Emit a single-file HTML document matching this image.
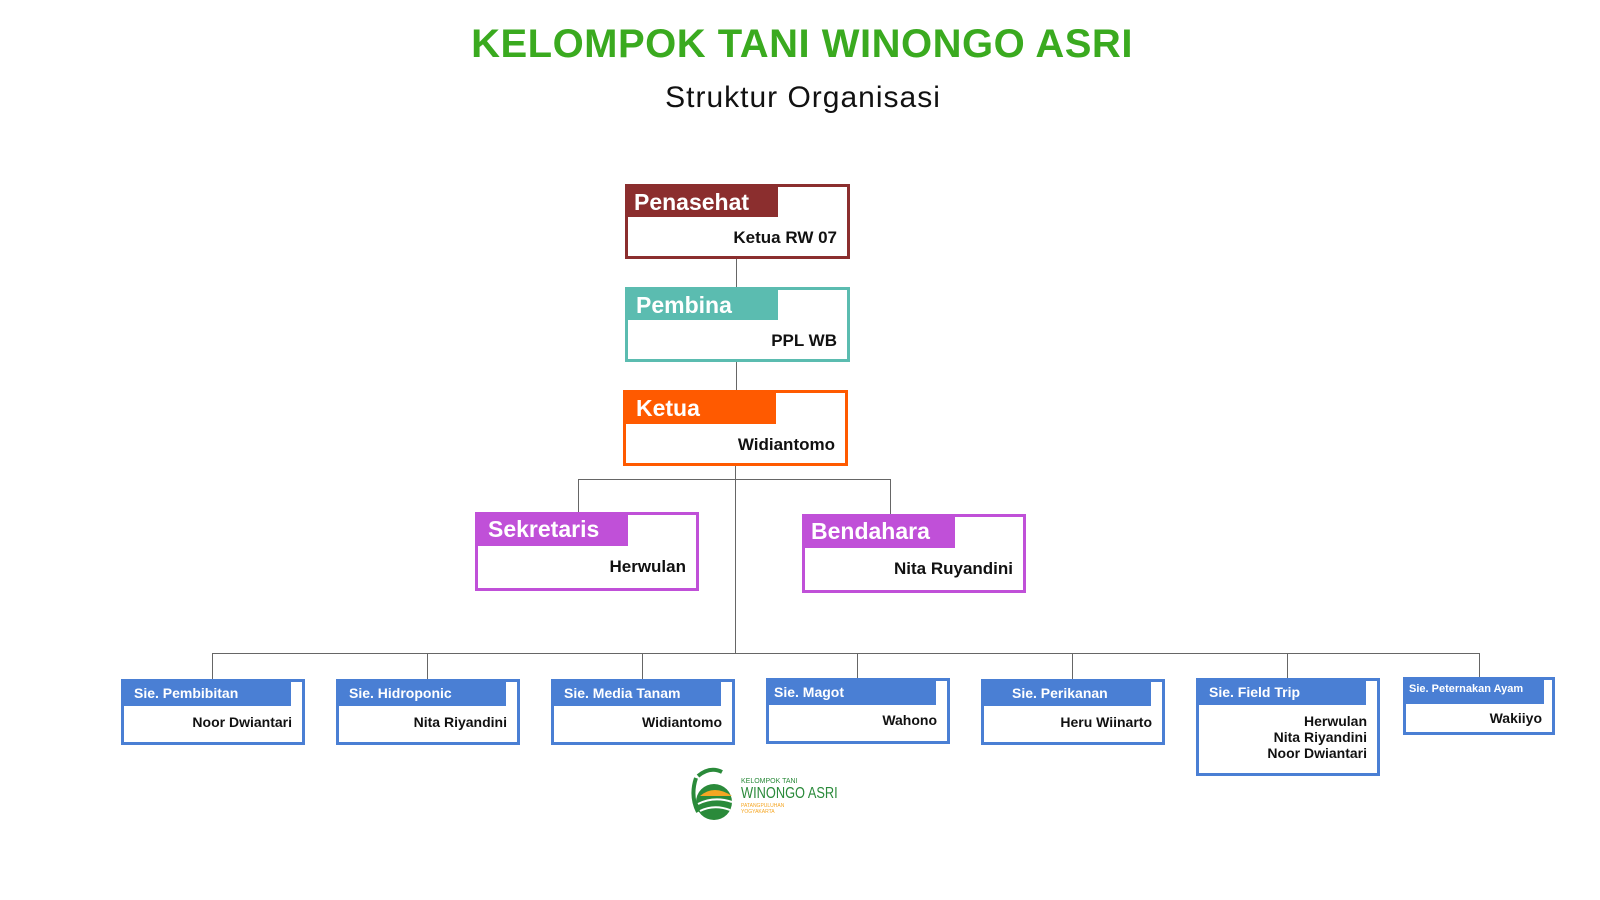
<!DOCTYPE html>
<html><head><style>
body{margin:0;width:1600px;height:900px;background:#fff;position:relative;overflow:hidden;font-family:"Liberation Sans",sans-serif}
.a{position:absolute}
.box{position:absolute;box-sizing:border-box;border:3px solid;background:#fff}
.hd{position:absolute;left:0;top:0;color:#fff;font-weight:bold;box-sizing:border-box}
.nm{position:absolute;right:10px;font-weight:bold;color:#111;text-align:right}
.l{position:absolute;background:#666}
.sb{border-color:#4a7fd4}
.sb .hd{background:#4a7fd4;height:24px;width:167px;font-size:14px;padding:3px 0 0 10px}
.sb .nm{top:32px;font-size:14px;line-height:16px}
</style></head><body>
<div class="a" style="left:0;width:1604px;top:22px;text-align:center;color:#3aaa1f;font-weight:bold;font-size:40px;letter-spacing:0.5px">KELOMPOK TANI WINONGO ASRI</div>
<div class="a" style="left:0;width:1606px;top:81px;text-align:center;color:#111;font-size:30px;letter-spacing:1px">Struktur Organisasi</div>

<div class="l" style="left:736px;top:259px;width:1px;height:28px"></div>
<div class="l" style="left:736px;top:362px;width:1px;height:28px"></div>
<div class="l" style="left:735px;top:466px;width:1px;height:188px"></div>
<div class="l" style="left:578px;top:479px;width:313px;height:1px"></div>
<div class="l" style="left:578px;top:479px;width:1px;height:33px"></div>
<div class="l" style="left:890px;top:479px;width:1px;height:35px"></div>
<div class="l" style="left:212px;top:653px;width:1268px;height:1px"></div>
<div class="l" style="left:212px;top:653px;width:1px;height:26px"></div>
<div class="l" style="left:427px;top:653px;width:1px;height:26px"></div>
<div class="l" style="left:642px;top:653px;width:1px;height:26px"></div>
<div class="l" style="left:857px;top:653px;width:1px;height:26px"></div>
<div class="l" style="left:1072px;top:653px;width:1px;height:26px"></div>
<div class="l" style="left:1287px;top:653px;width:1px;height:26px"></div>
<div class="l" style="left:1479px;top:653px;width:1px;height:25px"></div>

<div class="box" style="left:625px;top:184px;width:225px;height:75px;border-color:#8b2e2e"><div class="hd" style="background:#8b2e2e;width:150px;height:30px;font-size:23px;padding:2px 0 0 6px">Penasehat</div><div class="nm" style="top:41px;font-size:17px">Ketua RW 07</div></div>
<div class="box" style="left:625px;top:287px;width:225px;height:75px;border-color:#5bbcb0"><div class="hd" style="background:#5bbcb0;width:150px;height:30px;font-size:23px;padding:2px 0 0 8px">Pembina</div><div class="nm" style="top:41px;font-size:17px">PPL WB</div></div>
<div class="box" style="left:623px;top:390px;width:225px;height:76px;border-color:#ff5a00"><div class="hd" style="background:#ff5a00;width:150px;height:31px;font-size:23px;padding:2px 0 0 10px">Ketua</div><div class="nm" style="top:42px;font-size:17px">Widiantomo</div></div>
<div class="box" style="left:475px;top:512px;width:224px;height:79px;border-color:#c050d8"><div class="hd" style="background:#c050d8;width:150px;height:31px;font-size:23px;padding:1px 0 0 10px">Sekretaris</div><div class="nm" style="top:42px;font-size:17px">Herwulan</div></div>
<div class="box" style="left:802px;top:514px;width:224px;height:79px;border-color:#c050d8"><div class="hd" style="background:#c050d8;width:150px;height:31px;font-size:23px;padding:1px 0 0 6px">Bendahara</div><div class="nm" style="top:42px;font-size:17px">Nita Ruyandini</div></div>

<div class="box sb" style="left:121px;top:679px;width:184px;height:66px"><div class="hd">Sie. Pembibitan</div><div class="nm">Noor Dwiantari</div></div>
<div class="box sb" style="left:336px;top:679px;width:184px;height:66px"><div class="hd">Sie. Hidroponic</div><div class="nm">Nita Riyandini</div></div>
<div class="box sb" style="left:551px;top:679px;width:184px;height:66px"><div class="hd">Sie. Media Tanam</div><div class="nm">Widiantomo</div></div>
<div class="box sb" style="left:766px;top:678px;width:184px;height:66px"><div class="hd" style="padding-left:5px">Sie. Magot</div><div class="nm" style="top:31px">Wahono</div></div>
<div class="box sb" style="left:981px;top:679px;width:184px;height:66px"><div class="hd" style="padding-left:28px">Sie. Perikanan</div><div class="nm">Heru Wiinarto</div></div>
<div class="box sb" style="left:1196px;top:678px;width:184px;height:98px"><div class="hd" style="padding-left:10px">Sie. Field Trip</div><div class="nm">Herwulan<br>Nita Riyandini<br>Noor Dwiantari</div></div>
<div class="box sb" style="left:1403px;top:677px;width:152px;height:58px"><div class="hd" style="width:138px;font-size:11px;padding:3px 0 0 3px;height:24px">Sie. Peternakan Ayam</div><div class="nm" style="top:30px">Wakiiyo</div></div>

<svg class="a" style="left:688px;top:766px" width="50" height="56" viewBox="0 0 50 56">
<path d="M8 12 Q2 30 10 46" stroke="#2a8a3a" stroke-width="4" fill="none"/>
<path d="M10 10 Q22 0 34 6" stroke="#2a8a3a" stroke-width="4" fill="none"/>
<circle cx="26" cy="36" r="18" fill="#2a8a3a"/>
<path d="M12 30 Q26 18 44 30 Z" fill="#f5a623"/>
<path d="M10 38 Q26 30 44 36" stroke="#fff" stroke-width="2" fill="none"/>
<path d="M12 45 Q26 38 42 44" stroke="#fff" stroke-width="2" fill="none"/>
</svg>
<div class="a" style="left:741px;top:778px;font-size:7px;color:#2a8a3a">KELOMPOK TANI</div>
<div class="a" style="left:741px;top:785px;font-size:16px;color:#2a8a3a;transform:scaleX(0.8);transform-origin:left">WINONGO ASRI</div>
<div class="a" style="left:741px;top:803px;font-size:5px;color:#f5a623">PATANGPULUHAN<br>YOGYAKARTA</div>
</body></html>
